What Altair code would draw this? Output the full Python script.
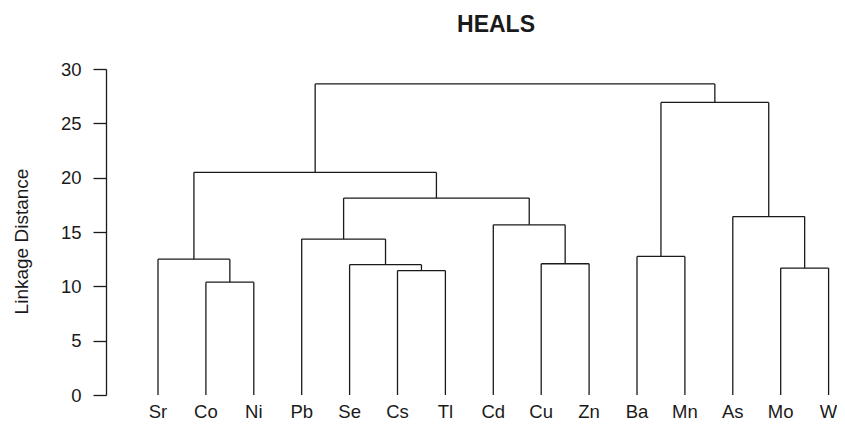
import altair as alt
import pandas as pd

# Leaves in dendrogram order
leaf_labels = ["Sr", "Co", "Ni", "Pb", "Se", "Cs", "Tl", "Cd", "Cu", "Zn",
               "Ba", "Mn", "As", "Mo", "W"]
# Merge table (R hclust style: negative = leaf position, positive = earlier merge)
merge_left = [-2, -6, -14, -5, -9, -1, -11, -4, -8, -13, 8, 6, 7, 12]
merge_right = [-3, -7, -15, 2, -10, 1, -12, 4, 5, 3, 9, 11, 10, 13]
merge_height = [10.38, 11.44, 11.68, 11.99, 12.08, 12.50, 12.75, 14.35,
                 15.66, 16.42, 18.12, 20.49, 26.92, 28.63]
y_ticks = [0, 5, 10, 15, 20, 25, 30]

# Build the dendrogram segments from the merge table
pos = {}


def node(c):
    if c < 0:
        return float(-c), 0.0
    return pos[c]


segs = []
for i, (l, r, h) in enumerate(zip(merge_left, merge_right, merge_height), start=1):
    xl, hl = node(l)
    xr, hr = node(r)
    segs.append(dict(x=xl, x2=xr, y=h, y2=h))
    segs.append(dict(x=xl, x2=xl, y=hl, y2=h))
    segs.append(dict(x=xr, x2=xr, y=hr, y2=h))
    pos[i] = ((xl + xr) / 2, h)
seg_df = pd.DataFrame(segs)
leaf_df = pd.DataFrame({"pos": list(range(1, len(leaf_labels) + 1)), "label": leaf_labels})

W, H = 731, 326
step = 47.9
lo = 1 - 52 / step
hi = lo + W / step

FONT = "Liberation Sans"
INK = "#1a1a1a"

xs = alt.Scale(domain=[lo, hi], nice=False, zero=False)
ys = alt.Scale(domain=[0, 30], nice=False)

lines = alt.Chart(seg_df).mark_rule(color=INK, strokeWidth=1.3).encode(
    x=alt.X("x:Q", scale=xs, axis=None),
    x2="x2:Q",
    y=alt.Y("y:Q", scale=ys, axis=alt.Axis(
        values=y_ticks, title="Linkage Distance", grid=False,
        tickSize=13, tickColor=INK, tickWidth=1.3,
        domainColor=INK, domainWidth=1.3,
        labelFont=FONT, labelFontSize=18.5, labelColor=INK, labelPadding=12,
        titleFont=FONT, titleFontSize=19, titleFontWeight="normal", titleColor=INK,
        titleAngle=270, titleX=-85, titleY=172, titleAlign="center",
        titleBaseline="middle")),
    y2="y2:Q",
)

leaves = alt.Chart(leaf_df).mark_text(
    font=FONT, fontSize=18.5, color=INK, baseline="bottom", align="center"
).encode(
    x=alt.X("pos:Q", scale=xs, axis=None),
    y=alt.value(353),
    text="label:N",
)

chart = alt.layer(lines, leaves).properties(
    width=W, height=H,
    title=alt.TitleParams(text="HEALS", font=FONT, fontSize=23, fontWeight="bold",
                          color=INK, anchor="middle", dx=24.5, offset=23),
    autosize=alt.AutoSizeParams(type="none"),
    padding={"left": 98, "top": 61, "right": 0, "bottom": 28},
).configure(background="white", view=alt.ViewConfig(stroke=None))

chart.save("out.html", embed_options={"renderer": "svg", "actions": False})
